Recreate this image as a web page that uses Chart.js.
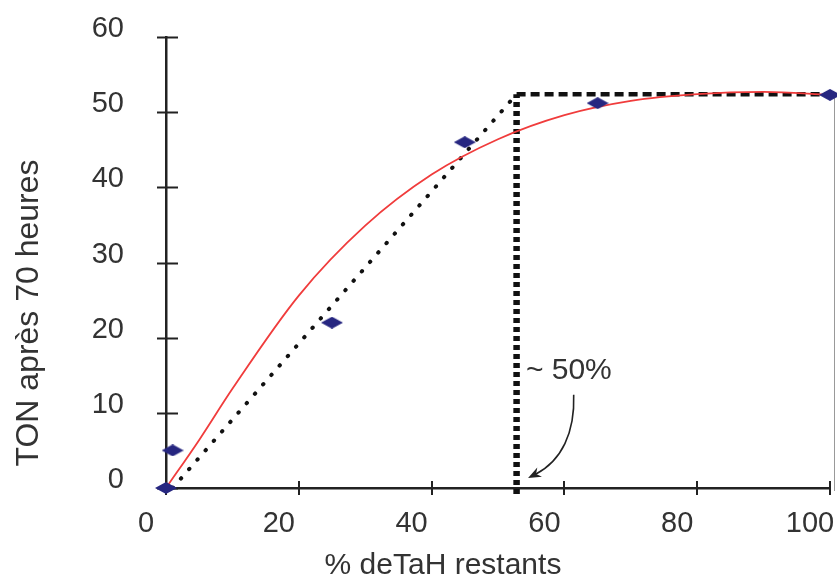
<!DOCTYPE html>
<html>
<head>
<meta charset="utf-8">
<script src="https://cdn.jsdelivr.net/npm/chart.js@4/dist/chart.umd.min.js"></script>
<style>
    html, body { margin: 0; padding: 0; background: #fff; }
    canvas { display: block; }
</style>
</head>
<body>
<canvas id="ton-chart" width="837" height="577"></canvas>
<script>
// Measured points (TON after 70 h vs % TaH left)
const pointX = [0, 1, 25, 45, 65, 100];
const pointY = [0, 5, 22, 46, 51.2, 52.3];

// Red trend curve
const curveX = [0, 5, 10, 20, 30, 40, 50, 60, 70, 80, 90, 100];
const curveY = [0, 6.4, 13.2, 25.6, 34.9, 41.7, 46.4, 49.6, 51.5, 52.4, 52.7, 52.3];

// Dotted initial-rate line and dashed plateau / half-conversion guides
const diagX = [1, 52.8];
const diagY = [0, 52.4];
const plateauX = [52.8, 100];
const plateauY = [52.4, 52.4];
const halfX = [52.8, 52.8];
const halfY = [-0.8, 52.4];

// Axis ticks
const xTicks = [0, 20, 40, 60, 80, 100];
const yTicks = [0, 10, 20, 30, 40, 50, 60];

const xTitle = '% deTaH restants';
const yTitle = 'TON après 70 heures';
const noteText = '~ 50%';

const FONT = '"Liberation Sans", Arial, sans-serif';
const TEXT = '#333';
const AXIS = '#222';

const toXY = (xs, ys) => xs.map((x, i) => ({ x: x, y: ys[i] }));

function makeDiamond(w, h, color) {
    const c = document.createElement('canvas');
    c.width = w;
    c.height = h;
    const g = c.getContext('2d');
    g.fillStyle = color;
    g.beginPath();
    g.moveTo(w / 2, 0);
    g.lineTo(w, h / 2);
    g.lineTo(w / 2, h);
    g.lineTo(0, h / 2);
    g.closePath();
    g.fill();
    return c;
}

// tick marks crossing the axis lines
const crossTicks = {
    id: 'crossTicks',
    beforeDatasetsDraw(chart) {
        const { ctx, scales: { x, y } } = chart;
        ctx.save();
        ctx.strokeStyle = AXIS;
        ctx.lineWidth = 2;
        ctx.beginPath();
        yTicks.forEach(v => {
            const py = Math.round(y.getPixelForValue(v)) + 0.5;
            ctx.moveTo(x.left - 9, py);
            ctx.lineTo(x.left + 12, py);
        });
        xTicks.forEach(v => {
            const px = Math.round(x.getPixelForValue(v));
            ctx.moveTo(px, y.bottom - 7);
            ctx.lineTo(px, y.bottom + 7);
        });
        ctx.stroke();

        // thin frame edge on the right
        ctx.strokeStyle = '#999';
        ctx.lineWidth = 1;
        ctx.beginPath();
        ctx.moveTo(x.right + 4.5, y.getPixelForValue(52.3));
        ctx.lineTo(x.right + 4.5, y.bottom + 3);
        ctx.stroke();
        ctx.restore();
    }
};

// axis titles, "~ 50%" note and its curved arrow
const extras = {
    id: 'extras',
    afterDraw(chart) {
        const { ctx, scales: { x, y } } = chart;
        ctx.save();
        ctx.fillStyle = TEXT;
        ctx.textBaseline = 'alphabetic';

        ctx.font = '30px ' + FONT;
        ctx.textAlign = 'center';
        ctx.fillText(xTitle, 443, 574);

        ctx.save();
        ctx.font = '32px ' + FONT;
        ctx.translate(38, 313);
        ctx.rotate(-Math.PI / 2);
        ctx.fillText(yTitle, 0, 0);
        ctx.restore();

        ctx.font = '30px ' + FONT;
        ctx.textAlign = 'left';
        ctx.fillText(noteText, x.getPixelForValue(54.2), y.getPixelForValue(14.5));

        const p0 = [x.getPixelForValue(61.4), y.getPixelForValue(12.4)];
        const c1 = [x.getPixelForValue(61.6), y.getPixelForValue(7.4)];
        const c2 = [x.getPixelForValue(59.6), y.getPixelForValue(3.6)];
        const p1 = [x.getPixelForValue(55.6), y.getPixelForValue(1.8)];
        ctx.strokeStyle = AXIS;
        ctx.lineWidth = 1.6;
        ctx.beginPath();
        ctx.moveTo(p0[0], p0[1]);
        ctx.bezierCurveTo(c1[0], c1[1], c2[0], c2[1], p1[0], p1[1]);
        ctx.stroke();

        // arrow head
        const ang = Math.atan2(p1[1] - c2[1], p1[0] - c2[0]);
        const tip = [p1[0] + 8 * Math.cos(ang), p1[1] + 8 * Math.sin(ang)];
        ctx.fillStyle = AXIS;
        ctx.beginPath();
        ctx.moveTo(tip[0], tip[1]);
        ctx.lineTo(tip[0] - 14 * Math.cos(ang - 0.38), tip[1] - 14 * Math.sin(ang - 0.38));
        ctx.lineTo(tip[0] - 9 * Math.cos(ang), tip[1] - 9 * Math.sin(ang));
        ctx.lineTo(tip[0] - 14 * Math.cos(ang + 0.38), tip[1] - 14 * Math.sin(ang + 0.38));
        ctx.closePath();
        ctx.fill();
        ctx.restore();
    }
};

const ctx = document.getElementById('ton-chart');

new Chart(ctx, {
    type: 'scatter',
    data: {
        datasets: [
            {
                label: 'TON',
                data: toXY(pointX, pointY),
                pointStyle: makeDiamond(22, 12, '#262680'),
                pointRadius: 6,
                showLine: false,
                clip: 12
            },
            {
                label: 'Tendance',
                data: toXY(curveX, curveY),
                showLine: true,
                borderColor: 'rgb(240, 60, 60)',
                borderWidth: 1.8,
                pointRadius: 0,
                cubicInterpolationMode: 'monotone',
                clip: 6
            },
            {
                label: 'Pente initiale',
                data: toXY(diagX, diagY),
                showLine: true,
                borderColor: '#111',
                borderWidth: 4,
                borderDash: [0.5, 12],
                borderCapStyle: 'round',
                pointRadius: 0
            },
            {
                label: 'Plateau',
                data: toXY(plateauX, plateauY),
                showLine: true,
                borderColor: '#111',
                borderWidth: 4.5,
                borderDash: [9, 5],
                pointRadius: 0
            },
            {
                label: '50%',
                data: toXY(halfX, halfY),
                showLine: true,
                borderColor: '#111',
                borderWidth: 6.5,
                borderDash: [5, 4],
                pointRadius: 0,
                clip: 10
            }
        ]
    },
    options: {
        responsive: false,
        animation: false,
        layout: {
            padding: { left: 0, top: 37, right: 5, bottom: 0 }
        },
        plugins: {
            legend: { display: false },
            tooltip: { enabled: false }
        },
        scales: {
            x: {
                type: 'linear',
                min: 0,
                max: 100,
                afterBuildTicks: (scale) => { scale.ticks = xTicks.map(v => ({ value: v })); },
                afterFit: (scale) => {
                    scale.height = 89;
                    scale.paddingLeft = 0;
                    scale.paddingRight = 0;
                },
                grid: { display: false, drawTicks: false },
                border: { display: true, color: AXIS, width: 2.5 },
                ticks: {
                    color: TEXT,
                    font: { family: FONT, size: 29 },
                    padding: 19,
                    labelOffset: -20,
                    maxRotation: 0
                }
            },
            y: {
                type: 'linear',
                min: 0,
                max: 60,
                afterBuildTicks: (scale) => { scale.ticks = yTicks.map(v => ({ value: v })); },
                afterFit: (scale) => {
                    scale.width = 166;
                    scale.paddingTop = 0;
                    scale.paddingBottom = 0;
                },
                grid: { display: false, drawTicks: false },
                border: { display: true, color: AXIS, width: 2.5 },
                ticks: {
                    color: TEXT,
                    font: { family: FONT, size: 29 },
                    padding: 42,
                    labelOffset: -8
                }
            }
        }
    },
    plugins: [crossTicks, extras]
});
</script>
</body>
</html>
